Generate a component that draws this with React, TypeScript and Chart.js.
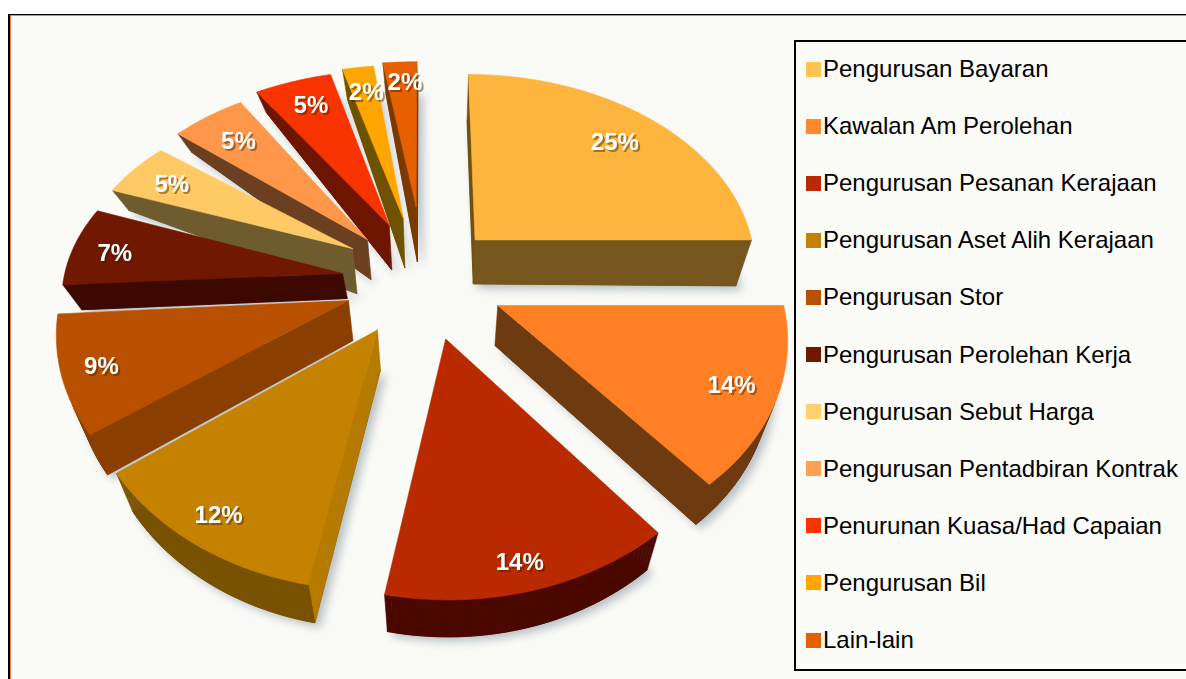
import React, { useEffect, useRef } from "react";
import { Chart, registerables } from "chart.js";

Chart.register(...registerables);

const categories = [
  "Pengurusan Bayaran",
  "Kawalan Am Perolehan",
  "Pengurusan Pesanan Kerajaan",
  "Pengurusan Aset Alih Kerajaan",
  "Pengurusan Stor",
  "Pengurusan Perolehan Kerja",
  "Pengurusan Sebut Harga",
  "Pengurusan Pentadbiran Kontrak",
  "Penurunan Kuasa/Had Capaian",
  "Pengurusan Bil",
  "Lain-lain",
];
const shares = [25, 14, 14, 12, 9, 7, 5, 5, 5, 2, 2];

const topColors = ["#FDB53E", "#FF7F24", "#B92A00", "#C58200", "#B85000", "#701800", "#FFC966", "#FF974A", "#F73300", "#FFA600", "#E66000"];
const legendColors = ["#FFC44F", "#FF8A2E", "#B92A00", "#C58200", "#B85000", "#701800", "#FFD070", "#FF9F55", "#F73300", "#FFA600", "#E66000"];
const rimColors = ["#75561C", "#6E3A10", "#4A0800", "#785200", "#8A3F00", "#3C0800", "#6E5C2E", "#6A4020", "#6E1500", "#6E5200", "#7A3A00"];
const startWall = ["#6E5010", "#7A4A1A", "#4A0800", "#B57A00", "#8A3F00", "#3C0800", "#6E5C2E", "#6A4020", "#6E1500", "#6E5200", "#7A3A00"];
const endWall = rimColors;

// explode distance as px of the doughnut offset option
const explode = [89, 87, 70, 64, 68, 72, 75, 75, 87, 96, 99];
const radiusX = [1, 0.985, 1.0, 1, 1, 0.98, 0.97, 0.97, 1.01, 1.02, 1.1];
const radiusY = [0.9, 0.92, 0.96, 0.97, 0.94, 0.82, 0.78, 0.86, 0.85, 0.85, 0.805];
const nudgeX = [1, 5, 14, -2, -2, -2, 1, 1, 8, 6, 8];
const nudgeY = [0, -9, 0, 2, -3, -4, -9, -5, -3, 0, -8];
const apexDepth = [44, 40, 37, 40, 40, 25, 45, 40, 45, 50, 55];
const rimDepth = [46, 40, 37, 38, 40, 25, 20, 18, 20, 30, 30];
const labelFraction = [0.75, 0.8, 0.86, 0.856, 0.87, 0.836, 0.775, 0.735, 0.72, 0.69, 0.687];
const labelShiftX = [7, 9, 0, -5, 2, 1, -7, -7, -9, -6, -1];
const labelShiftY = [6, 0, 3, 0, -2, 9, 16, 9, 5, 0, 2];

const view = { cx: 414, cy: 286, a: 285, b: 219, k: 0.14, taper: 0.05, taperX: 440 };

type P = { x: number; y: number };
function project(u: number, v: number): P {
  const s = 1 / (1 - view.k * v);
  return { x: view.cx + view.a * u * s, y: view.cy + view.b * v * s };
}
function poly(ctx: CanvasRenderingContext2D, pts: P[], fill: string) {
  ctx.beginPath();
  pts.forEach((p, i) => (i ? ctx.lineTo(p.x, p.y) : ctx.moveTo(p.x, p.y)));
  ctx.closePath();
  ctx.fillStyle = fill;
  ctx.fill();
  ctx.strokeStyle = fill;
  ctx.lineWidth = 0.6;
  ctx.stroke();
}

const tiltedPie = {
  id: "tiltedPie",
  beforeDraw(chart: any) {
    const { ctx, width, height } = chart;
    ctx.save();
    ctx.fillStyle = "#FFFFFF";
    ctx.fillRect(0, 0, width, height);
    ctx.fillStyle = "#000000";
    ctx.fillRect(8, 14, width - 8, height - 14);
    ctx.fillStyle = "#F08060";
    ctx.fillRect(10, 15, width - 10, height - 15);
    ctx.fillStyle = "#FAFAF6";
    ctx.fillRect(11, 16, width - 11, height - 16);
    ctx.restore();
  },
  beforeDatasetDraw(chart: any) {
    const { ctx } = chart;
    const arcs = chart.getDatasetMeta(0).data;
    const items = arcs.map((arc: any, i: number) => {
      const { startAngle, endAngle, outerRadius } = arc.getProps(["startAngle", "endAngle", "outerRadius"]);
      const mid = (startAngle + endAngle) / 2;
      const d = arc.options.offset / outerRadius;
      const au = Math.cos(mid) * d;
      const av = Math.sin(mid) * d;
      const shift = (p: P): P => ({ x: p.x + nudgeX[i], y: p.y + nudgeY[i] });
      const top: P[] = [shift(project(au, av))];
      const t: number[] = [0];
      const steps = 48;
      for (let j = 0; j <= steps; j++) {
        const th = startAngle + ((endAngle - startAngle) * j) / steps;
        top.push(shift(project(au + radiusX[i] * Math.cos(th), av + radiusY[i] * Math.sin(th))));
        t.push(1);
      }
      const bottom = top.map((p, j) => {
        const dp = apexDepth[i] + (rimDepth[i] - apexDepth[i]) * t[j];
        const f = 1 - view.taper;
        return { x: view.taperX + (p.x - view.taperX) * f, y: p.y + dp };
      });
      const lf = labelFraction[i];
      return { i, top, bottom, av, mid, au, lf };
    });
    items.sort((p: any, q: any) => p.av - q.av);

    for (const it of items) {
      const { i, top, bottom } = it;
      const n = top.length;
      ctx.save();
      ctx.shadowColor = "rgba(90,110,130,0.4)";
      ctx.shadowBlur = 9;
      ctx.shadowOffsetX = 5;
      ctx.shadowOffsetY = 4;
      poly(ctx, bottom, rimColors[i]);
      ctx.restore();
      for (let j = 0; j < n; j++) {
        const k = (j + 1) % n;
        const a = top[j], b = top[k], b2 = bottom[k], a2 = bottom[j];
        const q = [a, b, b2, a2];
        let area = 0;
        q.forEach((p, m) => {
          const o = q[(m + 1) % 4];
          area += p.x * o.y - o.x * p.y;
        });
        if (area < 0) {
          poly(ctx, q, j === 0 ? startWall[i] : j === n - 1 ? endWall[i] : rimColors[i]);
        }
      }
      poly(ctx, top, topColors[i]);
    }

    ctx.save();
    ctx.font = "bold 24px 'Liberation Sans', Arial, sans-serif";
    ctx.textAlign = "center";
    ctx.textBaseline = "middle";
    for (const it of items) {
      const i = it.i;
      const p = project(it.au + it.lf * Math.cos(it.mid), it.av + it.lf * Math.sin(it.mid));
      const x = p.x + nudgeX[i] + labelShiftX[i];
      const y = p.y + nudgeY[i] + labelShiftY[i];
      const text = `${shares[i]}%`;
      ctx.fillStyle = "rgba(60,30,0,0.45)";
      ctx.fillText(text, x + 2, y + 2);
      ctx.fillStyle = "#FFFFFF";
      ctx.fillText(text, x, y);
    }
    ctx.restore();
    return false;
  },
};

export default function App() {
  const ref = useRef<HTMLCanvasElement>(null);
  useEffect(() => {
    document.body.style.margin = "0";
    const chart = new Chart(ref.current!, {
      type: "pie",
      data: {
        labels: categories,
        datasets: [{ data: shares, backgroundColor: topColors, offset: explode, borderWidth: 0 }],
      },
      options: {
        responsive: false,
        animation: false,
        plugins: { legend: { display: false }, tooltip: { enabled: false } },
      },
      plugins: [tiltedPie],
    } as any);
    return () => chart.destroy();
  }, []);
  return (
    <div style={{ position: "relative", width: 1186, height: 679, overflow: "hidden" }}>
      <canvas ref={ref} width={1186} height={679} style={{ display: "block" }} />
      <div
        style={{
          position: "absolute",
          left: 794,
          top: 40,
          width: 400,
          height: 627,
          border: "2px solid #000",
          background: "#FBFBF8",
        }}
      >
        {categories.map((c, i) => (
          <div
            key={c}
            style={{
              position: "absolute",
              left: 10,
              top: 27 + i * 57.1 - 16,
              height: 32,
              display: "flex",
              alignItems: "center",
              font: "24px 'Liberation Sans', Arial, sans-serif",
              color: "#000",
              whiteSpace: "nowrap",
            }}
          >
            <span style={{ width: 15, height: 15, background: legendColors[i], marginRight: 2, display: "inline-block" }} />
            {c}
          </div>
        ))}
      </div>
    </div>
  );
}
